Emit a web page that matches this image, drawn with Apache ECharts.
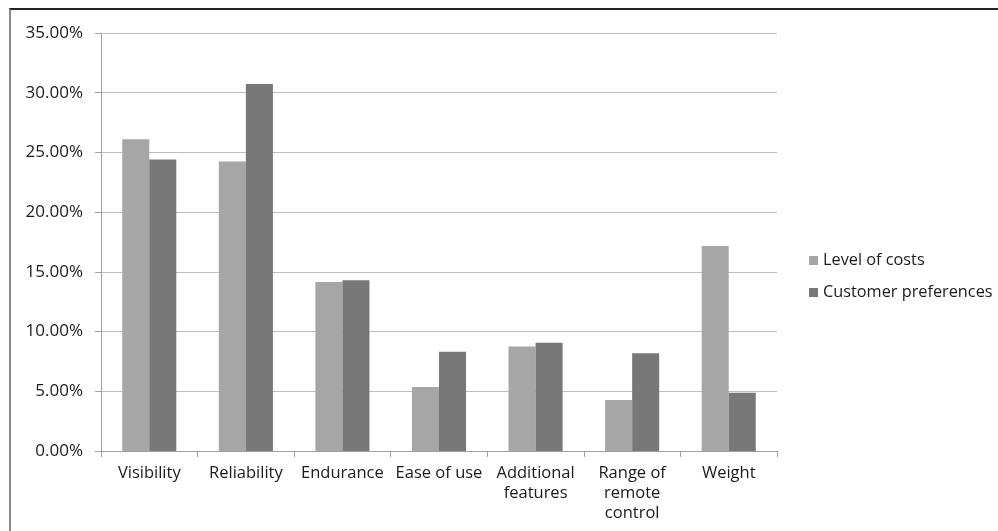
<!DOCTYPE html>
<html>
<head>
<meta charset="utf-8">
<script src="https://cdn.jsdelivr.net/npm/echarts@6/dist/echarts.min.js"></script>
<style>
html,body{margin:0;padding:0;background:#fff;}
#wrap{position:relative;width:998px;height:531px;}
#chart{position:absolute;left:0;top:0;width:998px;height:531px;}
#frame{position:absolute;left:9px;top:8px;width:1000px;height:540px;border-top:2px solid #222;border-left:2px solid #8a8a8a;pointer-events:none;}
</style>
</head>
<body>
<div id="wrap"><div id="chart"></div><div id="frame"></div></div>
<script>
const categories = ['Visibility', 'Reliability', 'Endurance', 'Ease of use', 'Additional\nfeatures', 'Range of\nremote\ncontrol', 'Weight'];
const levelOfCosts = [26.1, 24.25, 14.15, 5.36, 8.74, 4.27, 17.16];
const customerPreferences = [24.4, 30.73, 14.3, 8.31, 9.07, 8.18, 4.88];
const seriesNames = ['Level of costs', 'Customer preferences'];

const FONT = 'Open Sans';
const chart = echarts.init(document.getElementById('chart'));
chart.setOption({
  animation: false,
  textStyle: {fontFamily: FONT},
  grid: {left: 101, top: 33, right: 221, bottom: 80, containLabel: false},
  legend: {
    orient: 'vertical', left: 804, top: 247,
    itemWidth: 9, itemHeight: 9, itemGap: 15, icon: 'rect',
    textStyle: {fontFamily: FONT, fontSize: 16.3, lineHeight: 17, color: '#1a1a1a', padding: [0,0,0,0]},
    data: seriesNames
  },
  xAxis: {
    type: 'category', data: categories,
    axisLine: {lineStyle: {color: '#a0a0a0', width: 1}},
    axisTick: {show: true, length: 6, alignWithLabel: false, lineStyle: {color: '#a0a0a0'}},
    axisLabel: {fontFamily: FONT, fontSize: 16.5, color: '#1a1a1a', margin: 12, lineHeight: 20, interval: 0}
  },
  yAxis: {
    type: 'value', min: 0, max: 35, interval: 5,
    axisLine: {show: true, lineStyle: {color: '#a0a0a0'}},
    axisTick: {show: true, length: 6, lineStyle: {color: '#a0a0a0'}},
    splitLine: {lineStyle: {color: '#bdbdbd', width: 1}},
    axisLabel: {fontFamily: FONT, fontSize: 17, color: '#1a1a1a', margin: 18, formatter: v => v.toFixed(2) + '%'}
  },
  series: [
    {name: seriesNames[0], type: 'bar', data: levelOfCosts, barGap: '0%', barCategoryGap: '44%',
     itemStyle: {color: '#a6a6a6'}},
    {name: seriesNames[1], type: 'bar', data: customerPreferences, barGap: '0%', barCategoryGap: '44%',
     itemStyle: {color: '#787878'}}
  ]
});
</script>
</body>
</html>
